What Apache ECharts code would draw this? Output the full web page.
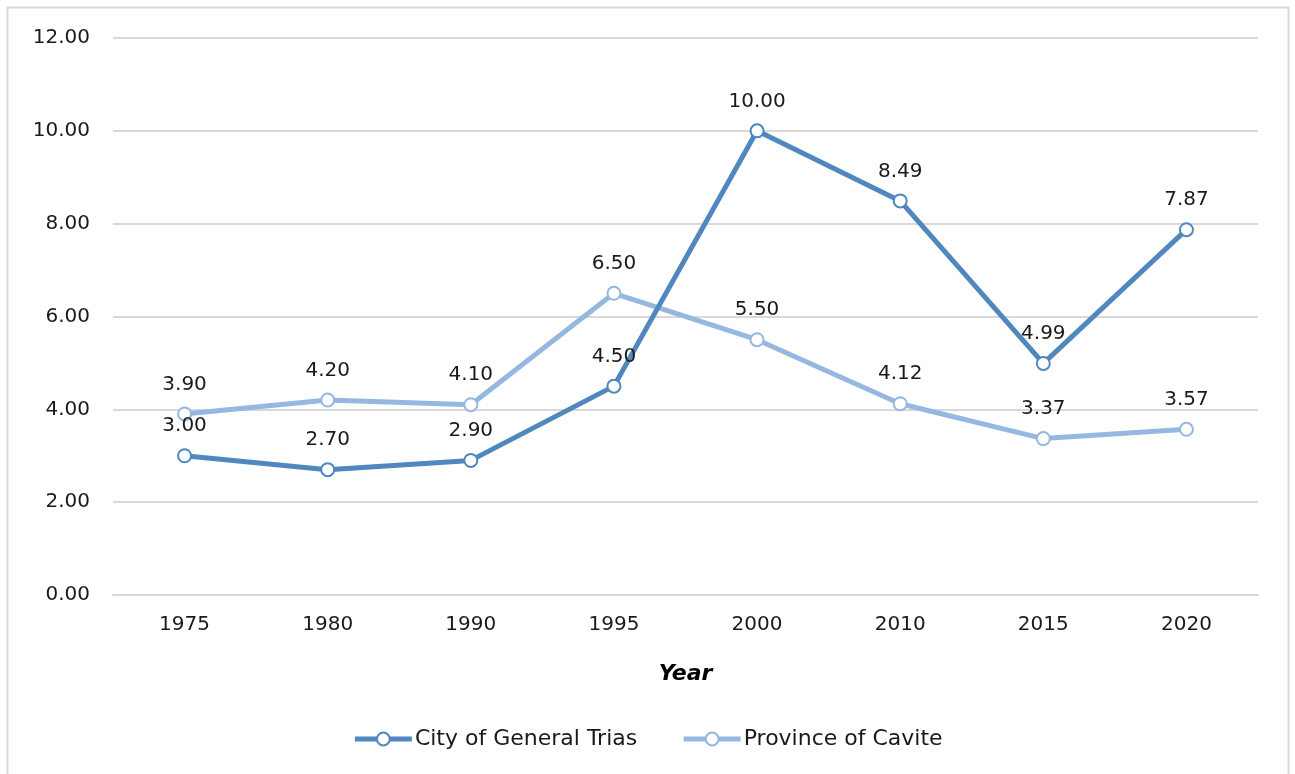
<!DOCTYPE html>
<html><head><meta charset="utf-8">
<script src="https://cdn.jsdelivr.net/npm/echarts@6/dist/echarts.min.js"></script>
<style>html,body{margin:0;padding:0;background:#fff}#c{width:1295px;height:774px}</style>
</head><body><div id="c"></div>
<script>
const years = ['1975','1980','1990','1995','2000','2010','2015','2020'];
const generalTrias = [3.00, 2.70, 2.90, 4.50, 10.00, 8.49, 4.99, 7.87];
const cavite = [3.90, 4.20, 4.10, 6.50, 5.50, 4.12, 3.37, 3.57];
const seriesNames = ['City of General Trias', 'Province of Cavite'];
const colors = ['#4f87be', '#95b8e0'];
const FONT = 'DejaVu Sans';

const chart = echarts.init(document.getElementById('c'));
function mk(name, data, color) {
  return {
    name, type: 'line', data,
    lineStyle: {width: 5, color},
    itemStyle: {color: '#fff', borderColor: color, borderWidth: 2},
    symbol: 'circle', symbolSize: 13,
    z: name === seriesNames[0] ? 3 : 2,
    label: {show: true, position: 'top', distance: 12, formatter: p => p.value.toFixed(2),
      fontFamily: FONT, fontSize: 20, color: '#1a1a1a'}
  };
}
chart.setOption({
  animation: false,
  color: colors,
  graphic: [{type: 'rect', shape: {x: 7.5, y: 7.5, width: 1281, height: 800},
    style: {fill: 'none', stroke: '#d9d9d9', lineWidth: 2}, silent: true, z: -1}],
  grid: {left: 113, right: 37, top: 38, bottom: 179, containLabel: false},
  legend: {
    bottom: 19, left: 'center', itemWidth: 57, itemHeight: 16, itemGap: 44,
    data: seriesNames,
    lineStyle: {width: 5},
    itemStyle: {borderWidth: 2},
    textStyle: {fontFamily: FONT, fontSize: 22, color: '#1a1a1a', padding: [0, 0, 0, -2]}
  },
  xAxis: {
    type: 'category', data: years, boundaryGap: true,
    axisLine: {lineStyle: {color: '#d9d9d9', width: 2}},
    axisTick: {show: false},
    axisLabel: {fontFamily: FONT, fontSize: 20, color: '#1a1a1a', margin: 20},
    name: 'Year', nameLocation: 'middle', nameGap: 68,
    nameTextStyle: {fontFamily: FONT, fontSize: 22, fontWeight: 'bold', fontStyle: 'italic', color: '#000'}
  },
  yAxis: {
    type: 'value', min: 0, max: 12, interval: 2,
    axisLine: {show: false}, axisTick: {show: false},
    splitLine: {lineStyle: {color: '#d9d9d9', width: 2}},
    axisLabel: {fontFamily: FONT, fontSize: 20, color: '#1a1a1a', margin: 23, formatter: v => v.toFixed(2)}
  },
  series: [mk(seriesNames[0], generalTrias, colors[0]), mk(seriesNames[1], cavite, colors[1])]
});
</script></body></html>
